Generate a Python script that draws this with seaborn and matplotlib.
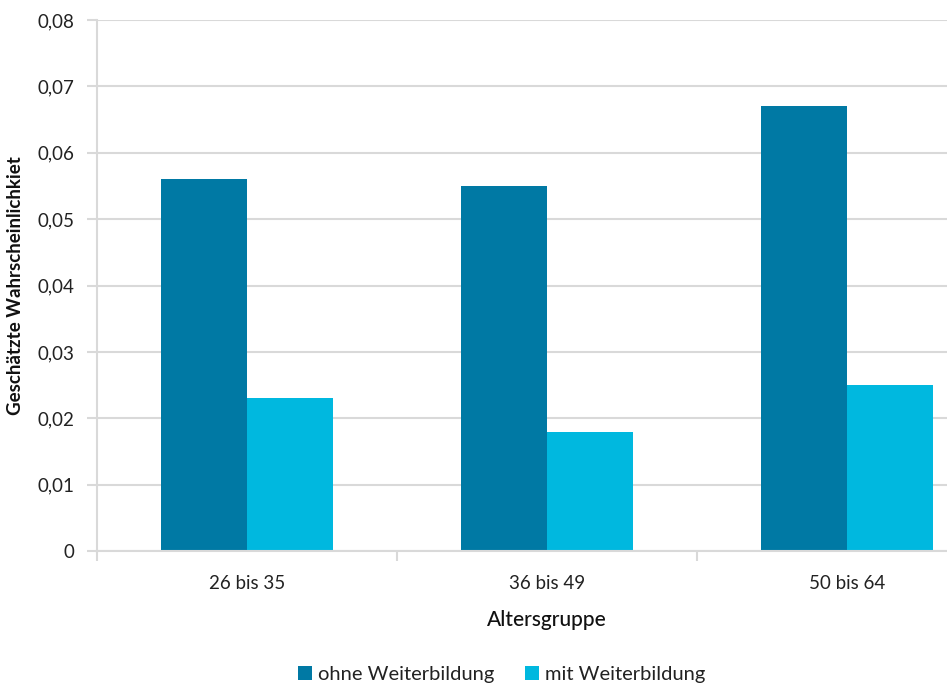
import matplotlib
matplotlib.use("Agg")
import matplotlib.pyplot as plt
import seaborn as sns
import pandas as pd
from matplotlib.ticker import FuncFormatter, FixedLocator

categories = ["26 bis 35", "36 bis 49", "50 bis 64"]
series_names = ["ohne Weiterbildung", "mit Weiterbildung"]
ohne = [0.056, 0.055, 0.067]
mit = [0.023, 0.018, 0.025]
y_ticks = [0, 0.01, 0.02, 0.03, 0.04, 0.05, 0.06, 0.07, 0.08]

df = pd.DataFrame({
    "Altersgruppe": categories * 2,
    "Serie": [series_names[0]] * 3 + [series_names[1]] * 3,
    "Wert": ohne + mit,
})

sns.set_theme(style="white")
plt.rcParams["font.family"] = ["Lato", "DejaVu Sans"]

fig = plt.figure(figsize=(9.47, 6.86), dpi=100)
ax = fig.add_axes([97/947, 135/686, 900/947, 531/686])

palette = {series_names[0]: "#0079A4", series_names[1]: "#00B8DF"}
sns.barplot(data=df, x="Altersgruppe", y="Wert", hue="Serie", palette=palette,
            width=0.573, gap=0, saturation=1, ax=ax, legend=True, linewidth=0)

ax.set_xlim(-0.5, 2.5)
ax.set_ylim(0, 0.08)
ax.yaxis.set_major_locator(FixedLocator(y_ticks))
ax.yaxis.set_major_formatter(FuncFormatter(lambda v, p: "0" if v == 0 else f"{v:.2f}".replace(".", ",")))
ax.grid(axis="y", color="#d9d9d9", linewidth=1.5)
ax.set_axisbelow(True)
for s in ["top", "right"]:
    ax.spines[s].set_visible(False)
for s in ["left", "bottom"]:
    ax.spines[s].set_color("#d9d9d9")
    ax.spines[s].set_linewidth(1.5)

ax.tick_params(axis="y", length=7, width=1.5, color="#d9d9d9", labelsize=13.5, labelcolor="#222222", pad=9, left=True)
ax.tick_params(axis="x", which="major", length=0, labelsize=13.5, labelcolor="#222222", pad=17)
ax.set_xticks([-0.5, 0.5, 1.5], minor=True)
ax.tick_params(axis="x", which="minor", length=7, width=1.5, color="#d9d9d9", bottom=True)

ax.set_xlabel("Altersgruppe", fontsize=15, color="#111111", labelpad=13, fontweight="medium")
ax.set_ylabel("Geschätzte Wahrscheinlichkiet", fontsize=13.5, color="#111111", fontweight="bold", labelpad=10)

handles, labels = ax.get_legend_handles_labels()
ax.get_legend().remove()
fig.legend(handles, labels, loc="center", bbox_to_anchor=(0.53, 0.017), ncol=2, frameon=False,
           fontsize=14.5, handlelength=0.7, handleheight=0.7, handletextpad=0.3, columnspacing=1.5,
           labelcolor="#222222", borderpad=0.1)

fig.savefig("out.png", dpi=100)
